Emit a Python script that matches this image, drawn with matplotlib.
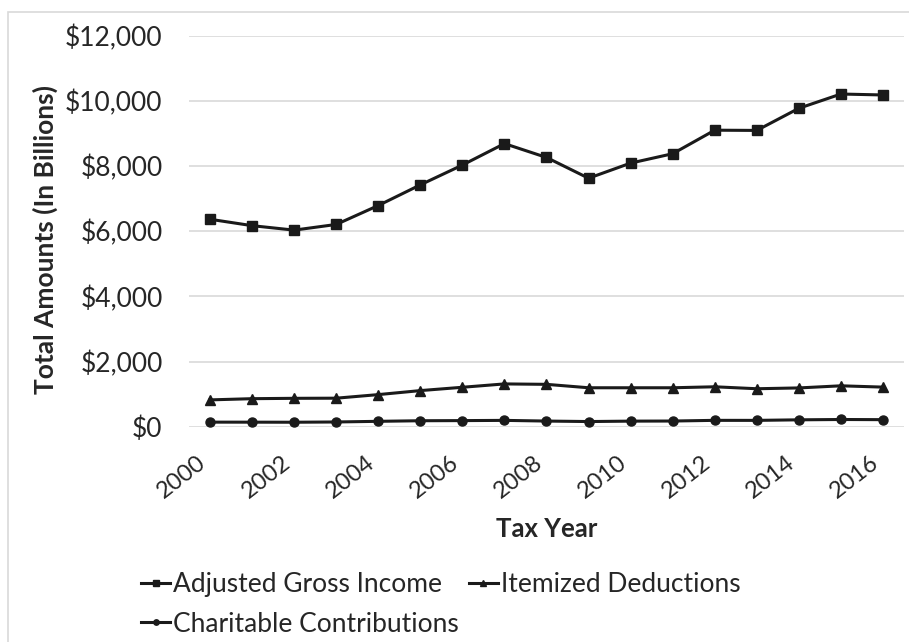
import numpy as np
import matplotlib
matplotlib.use("Agg")
import matplotlib.pyplot as plt
from matplotlib.patches import Rectangle
from matplotlib.ticker import FuncFormatter

plt.rcParams['font.family'] = ['Lato', 'DejaVu Sans']

years = list(range(2000, 2017))
agi = [6366, 6170, 6033, 6207, 6788, 7422, 8030, 8688, 8263, 7626,
       8090, 8378, 9100, 9093, 9772, 10210, 10181]
itemized = [823, 860, 871, 875, 985, 1108, 1210, 1313, 1300, 1195,
            1195, 1195, 1225, 1165, 1190, 1255, 1215]
charitable = [140, 139, 137, 145, 165, 183, 187, 194, 173, 158,
              171, 174, 195, 194, 211, 221, 216]
tick_years = years[::2]

W, H = 909, 642
fig = plt.figure(figsize=(W / 100, H / 100), dpi=100)

# outer chart border
fig.patches.append(Rectangle((8 / W, -0.05), 1.2, (H - 12) / H + 0.05,
                             transform=fig.transFigure, fill=False,
                             edgecolor="#d9d9d9", linewidth=1.2))

ax = fig.add_axes([189 / W, 215.3 / H, 715 / W, (426.7 - 35.7) / H])

line_kw = dict(color="#1a1a1a", linewidth=2.2)
l1, = ax.plot(years, agi, marker="s", markersize=6.5, **line_kw,
              label="Adjusted Gross Income")
l2, = ax.plot(years, itemized, marker="^", markersize=6.5, **line_kw,
              label="Itemized Deductions")
l3, = ax.plot(years, charitable, marker="o", markersize=6.5, **line_kw,
              label="Charitable Contributions")

ax.set_xlim(years[0] - 0.5, years[-1] + 0.5)
ax.set_ylim(0, 12000)
ax.set_yticks(np.arange(0, 12001, 2000))
ax.yaxis.set_major_formatter(FuncFormatter(lambda v, p: f"${v:,.0f}"))
ax.set_xticks(tick_years)
ax.set_xticklabels([str(y) for y in tick_years], rotation=38, ha="right",
                   fontsize=17)

ax.grid(axis="y", color="#d9d9d9", linewidth=1.2)
ax.set_axisbelow(True)
for s in ax.spines.values():
    s.set_visible(False)
ax.tick_params(axis="both", length=0, colors="#262626")
ax.tick_params(axis="y", pad=19, labelsize=19)
ax.tick_params(axis="x", pad=18)

ax.set_xlabel("Tax Year", fontsize=18.5, fontweight="bold", color="#262626")
ax.set_ylabel("Total Amounts (In Billions)", fontsize=19, fontweight="bold",
              color="#262626")
ax.xaxis.set_label_coords(0.5, -(517 - 426.7) / 391)
ax.yaxis.set_label_coords((58 - 189) / 715, 0.48)

leg = fig.legend([l1, l3, l2],
                 [l1.get_label(), l3.get_label(), l2.get_label()],
                 ncol=2, loc="upper left", bbox_to_anchor=(141 / W, 1 - 572 / H),
                 frameon=False, fontsize=19, handlelength=1.1, borderpad=0,
                 borderaxespad=0, handletextpad=0.1, columnspacing=0.4,
                 markerscale=0.6, labelspacing=0.55, labelcolor="#262626")

fig.savefig("out.png", dpi=100)
